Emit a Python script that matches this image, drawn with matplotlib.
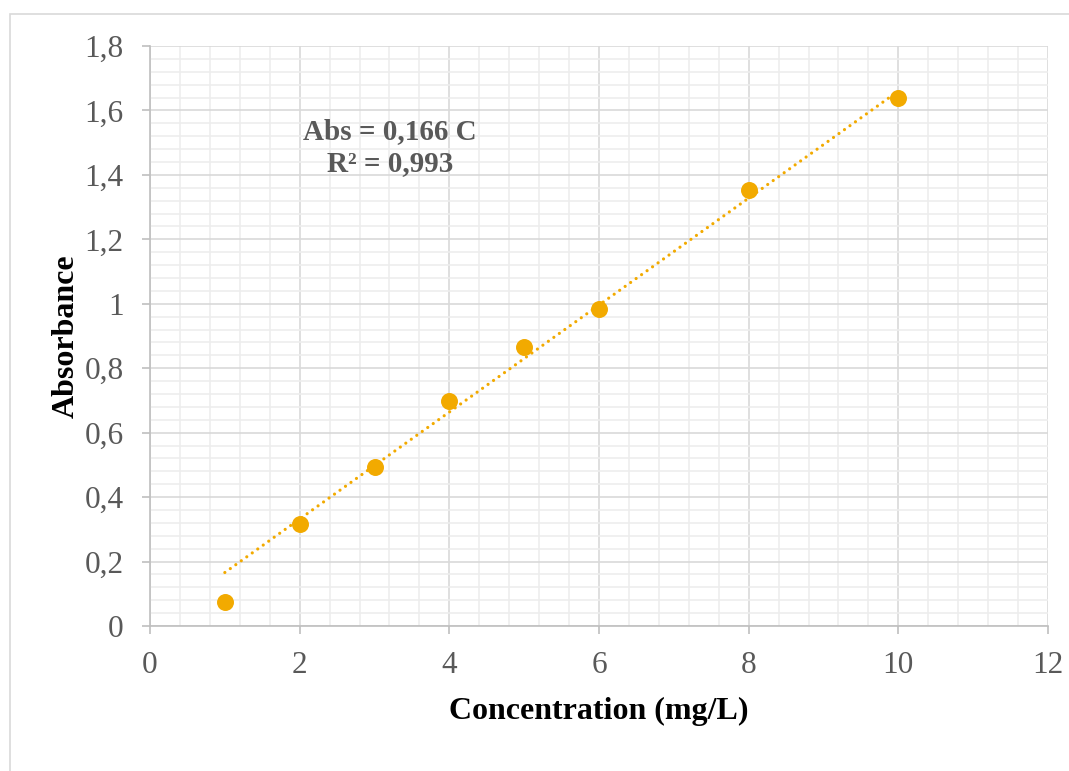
import matplotlib.pyplot as plt
from matplotlib.patches import Rectangle
from matplotlib.ticker import MultipleLocator, FuncFormatter

# calibration data
conc = [1, 2, 3, 4, 5, 6, 8, 10]
absorb = [0.073, 0.316, 0.495, 0.698, 0.866, 0.985, 1.352, 1.640]
slope = 0.166
fit_x = [1, 10]

plt.rcParams['font.family'] = ['Liberation Serif', 'DejaVu Serif']
txt = '#595959'
gold = '#F2AA00'

fig = plt.figure(figsize=(10.69, 7.71), dpi=100)
fig.patches.append(Rectangle((10 / 1069, -0.1), 1.2, 1 - 14 / 771 + 0.1, transform=fig.transFigure,
                             fill=False, edgecolor='#D9D9D9', linewidth=1.2, zorder=0))
ax = fig.add_axes([150 / 1069, 1 - 626 / 771, 898 / 1069, 580 / 771])

ax.plot(fit_x, [slope * x for x in fit_x], color=gold, linewidth=2.3,
        dashes=(0.01, 2.1), dash_capstyle='round', zorder=3)
ax.plot(conc, absorb, 'o', color=gold, markersize=11.2, zorder=4, clip_on=False)

ax.set_xlim(0, 12)
ax.set_ylim(0, 1.8)
ax.xaxis.set_major_locator(MultipleLocator(2))
ax.xaxis.set_minor_locator(MultipleLocator(0.4))
ax.yaxis.set_major_locator(MultipleLocator(0.2))
ax.yaxis.set_minor_locator(MultipleLocator(0.04))
fmt = FuncFormatter(lambda v, p: ('%g' % round(v, 2)).replace('.', ','))
ax.xaxis.set_major_formatter(fmt)
ax.yaxis.set_major_formatter(fmt)

ax.grid(which='major', color='#D9D9D9', linewidth=1.2)
ax.grid(which='minor', color='#EDEDED', linewidth=1.2)
ax.set_axisbelow(True)
for s in ['top', 'right']:
    ax.spines[s].set_visible(False)
for s in ['left', 'bottom']:
    ax.spines[s].set_color('#BFBFBF')
    ax.spines[s].set_linewidth(1.2)
ax.tick_params(which='major', direction='out', length=6, width=1.2, color='#BFBFBF',
               labelsize=22.5, labelcolor=txt)
ax.tick_params(axis='y', pad=13)
ax.tick_params(axis='x', pad=12)
ax.tick_params(which='minor', length=0)

ax.set_xlabel('Concentration (mg/L)', fontsize=23, fontweight='bold', color='black', labelpad=12)
ax.set_ylabel('Absorbance', fontsize=23, fontweight='bold', color='black', labelpad=3)

ax.text(3.21, 1.485, 'Abs = 0,166 C\nR² = 0,993', ha='center', va='center', fontsize=21,
        fontweight='bold', color=txt, linespacing=1.2)

fig.savefig('out.png', dpi=100)
